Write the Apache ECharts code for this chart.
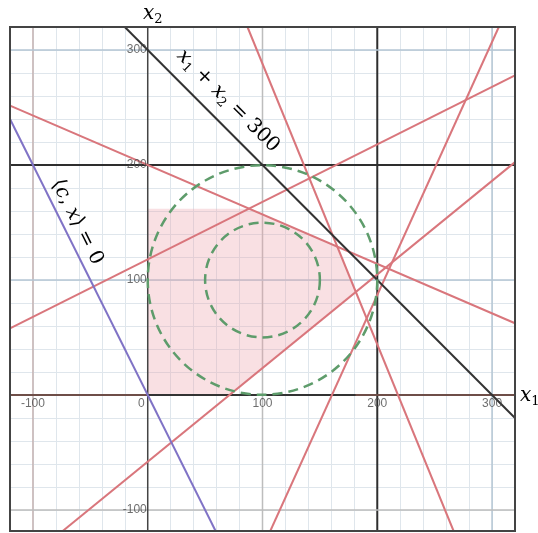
<!DOCTYPE html>
<html><head><meta charset="utf-8">
<script src="https://cdn.jsdelivr.net/npm/echarts@6/dist/echarts.min.js"></script>
<style>html,body{margin:0;padding:0;background:#fff}#c{width:538px;height:533px}</style>
</head><body><div id="c"></div>
<script>
// axis ranges & ticks
const xRange = [-120, 320];
const yRange = [-120, 320];
const xTickLabels = [-100, 0, 100, 200, 300];
const yTickLabels = [-100, 100, 200, 300];
// major grid lines (value, kind)
const majorX = [[-100, 'rose'], [100, 'gray'], [200, 'dark'], [300, 'blue']];
const majorY = [[-100, 'gray'], [100, 'blue'], [200, 'dark'], [300, 'blue']];
// constraint lines (two points each)
const lineA = [[-120, 251.6], [320, 62.4]];
const lineB = [[-120, 58], [320, 278]];
const lineC = [[86.9, 320], [267.2, -120]];
const lineD = [[106, -120], [305.9, 320]];
const lineE = [[-80, -123.1], [320, 202.5]];
const lineSum = [[-20, 320], [320, -20]];
const lineObj = [[-120, 240], [60, -120]];
// feasible region
const region = [[0, 0], [71, 0], [181, 90], [165, 129], [88, 162], [0, 162]];
// circles [cx, cy, r]
const circles = [[100, 100, 100], [100, 100, 50]];

const majorColor = {gray: '#bdbdbd', rose: '#c4b2b2', dark: '#2e2e2e', blue: '#b4c6d4'};
const labelFont = {color: '#4a4a4a', fontSize: 12, fontFamily: 'Liberation Sans'};
const series = [];
majorX.forEach(([v, k]) => series.push({type: 'line', data: [[v, yRange[0]], [v, yRange[1]]], symbol: 'none', silent: true,
  lineStyle: {color: majorColor[k], width: k === 'dark' ? 2 : 1.5}, z: 1}));
majorY.forEach(([v, k]) => series.push({type: 'line', data: [[xRange[0], v], [xRange[1], v]], symbol: 'none', silent: true,
  lineStyle: {color: majorColor[k], width: k === 'dark' ? 2 : 1.5}, z: 1}));
// axes
series.push({type: 'line', data: [[xRange[0], 0], [xRange[1], 0]], symbol: 'none', lineStyle: {color: '#6e4e48', width: 2}, z: 3});
series.push({type: 'line', data: [[0, yRange[0]], [0, yRange[1]]], symbol: 'none', lineStyle: {color: '#444', width: 1.5}, z: 3});
series.push({type: 'custom', z: 2, silent: true, data: [0], renderItem: (p, api) => ({
  type: 'polygon', shape: {points: region.map(pt => api.coord(pt))},
  style: {fill: 'rgba(238,160,170,0.33)', stroke: 'none'}})});
series.push({type: 'line', data: [[0, 0], [181, 0]], symbol: 'none', lineStyle: {color: '#333', width: 2}, z: 4});
const red = '#d9767c';
[lineA, lineB, lineC, lineD, lineE].forEach(l => series.push({type: 'line', data: l, symbol: 'none', silent: true,
  lineStyle: {color: red, width: 2}, z: 5}));
series.push({type: 'line', data: lineSum, symbol: 'none', lineStyle: {color: '#333', width: 2}, z: 6});
series.push({type: 'line', data: lineObj, symbol: 'none', lineStyle: {color: '#8073c6', width: 2}, z: 6});
series.push({type: 'custom', z: 7, silent: true, data: circles.map((c, i) => i), renderItem: (p, api) => {
  const c = circles[api.value(0)];
  const ctr = api.coord([c[0], c[1]]);
  const r = api.size([c[2], 0])[0];
  return {type: 'circle', shape: {cx: ctr[0], cy: ctr[1], r: r},
    style: {fill: 'none', stroke: '#5e9c6b', lineWidth: 2.5, lineDash: [10, 6]}};
}});
// tick labels
series.push({type: 'scatter', symbolSize: 0, silent: true, z: 20, data: xTickLabels.map(v => [v, 0]),
  label: {show: true, position: 'bottom', distance: 3, ...labelFont,
    formatter: p => p.value[0] === 0 ? '{z|0}' : String(p.value[0]),
    rich: {z: {padding: [0, 13, 0, 0], ...labelFont}}}});
series.push({type: 'scatter', symbolSize: 0, silent: true, z: 20, data: yTickLabels.map(v => [0, v]),
  label: {show: true, position: 'left', distance: 1, ...labelFont, formatter: p => String(p.value[1])}});

const serif = 'DejaVu Serif';
const mathRich = {
  i: {fontFamily: serif, fontStyle: 'italic', fontSize: 20, color: '#111'},
  s: {fontFamily: serif, fontSize: 13, color: '#111', padding: [12, 0, 0, 0]},
  n: {fontFamily: serif, fontSize: 20, color: '#111'}
};

const chart = echarts.init(document.getElementById('c'), null, {renderer: 'canvas'});
chart.setOption({
  animation: false,
  grid: {left: 10, top: 27, width: 505, height: 506, containLabel: false, outerBoundsMode: 'none'},
  xAxis: {type: 'value', min: xRange[0], max: xRange[1], interval: 20,
    axisLine: {show: false}, axisTick: {show: false}, axisLabel: {show: false},
    splitLine: {show: true, lineStyle: {color: '#dfe6ec', width: 1}}},
  yAxis: {type: 'value', min: yRange[0], max: yRange[1], interval: 20,
    axisLine: {show: false}, axisTick: {show: false}, axisLabel: {show: false},
    splitLine: {show: true, lineStyle: {color: '#dfe6ec', width: 1}}},
  series: series,
  graphic: [
    {type: 'rect', shape: {x: 10, y: 27, width: 505, height: 504}, style: {fill: 'none', stroke: '#444', lineWidth: 2}, z: 100},
    {type: 'rect', shape: {x: 0, y: 532, width: 538, height: 2}, style: {fill: '#fff'}, z: 99},
    {type: 'text', x: 143, y: 14, z: 100, style: {text: '{i|x}{s|2}', rich: mathRich, align: 'left', verticalAlign: 'middle'}},
    {type: 'text', x: 520, y: 396, z: 100, style: {text: '{i|x}{s|1}', rich: mathRich, align: 'left', verticalAlign: 'middle'}},
    {type: 'text', x: 228, y: 101, rotation: -Math.PI / 4, z: 100,
      style: {text: '{i|x}{s|1}{n| + }{i|x}{s|2}{n| = 300}', rich: mathRich, align: 'center', verticalAlign: 'middle'}},
    {type: 'text', x: 77, y: 222, rotation: -Math.atan(2), z: 100,
      style: {text: '{n|⟨}{i|c}{n|, }{i|x}{n|⟩ = 0}', rich: mathRich, align: 'center', verticalAlign: 'middle'}}
  ]
});
</script></body></html>
